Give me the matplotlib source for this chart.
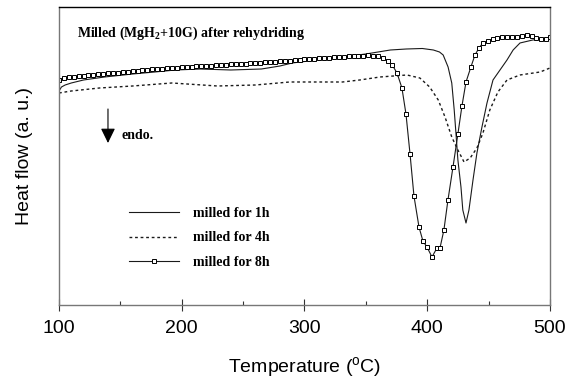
import matplotlib.pyplot as plt
from matplotlib.ticker import MultipleLocator

plt.rcParams['font.family'] = ['Liberation Sans', 'DejaVu Sans']
plt.rcParams['mathtext.default'] = 'regular'

# milled for 1h (solid)
T1 = [100, 102, 105, 110, 120, 137, 160, 178, 195, 215, 240, 265, 280, 290, 310, 330,
      350, 360, 370, 383, 396, 405, 410, 413, 417, 420, 422, 423.4, 425, 427.5, 429,
      431.6, 434, 437.3, 440.5, 444.6, 448.7, 453.6, 459.3, 465, 470, 475.6, 486, 500]
Y1 = [214, 218, 220, 222, 225, 228, 231, 233, 235, 236, 235, 236, 239, 242, 245, 248,
      251, 253, 255, 256, 256.5, 255, 253, 250, 238, 222, 195, 172, 145, 118, 95,
      82, 95, 125, 152, 178, 202, 225, 235, 245, 255, 262, 265, 267]

# milled for 4h (dashed)
T4 = [100, 110, 133, 160, 192, 229, 260, 288, 331, 345, 361.5, 383.5, 394, 402, 409,
      414.5, 420, 425, 430, 435, 440.5, 445.4, 451, 457.6, 465, 475.6, 492, 500]
Y4 = [212, 214, 217, 219, 222, 219, 220, 223, 223, 225, 228, 230, 227, 218, 205,
      188, 168, 155, 143, 147, 157, 172, 195, 213, 225, 230, 233, 237]

# milled for 8h (squares)
T8 = [100, 104, 108, 112, 116, 120, 124, 128, 132, 136, 140, 144, 148, 152, 156, 160,
      164, 168, 172, 176, 180, 184, 188, 192, 196, 200, 204, 208, 212, 216, 220, 224,
      228, 232, 236, 240, 244, 248, 252, 256, 260, 264, 268, 272, 276, 280, 284, 288,
      292, 296, 300, 304, 308, 312, 316, 320, 324, 328, 332, 336, 340, 344, 348, 352,
      356, 360, 364, 368, 371.5, 375.4, 379.4, 382.7, 386, 389.2, 393.3, 396.5, 399.8,
      403.9, 407.9, 410.4, 413.6, 416.9, 421, 425, 428.3, 431.6, 435.6, 438.9, 442.2,
      445.4, 449.5, 453.6, 457, 461, 465, 469, 473, 477, 481, 485, 489, 493, 497, 500]
Y8 = [225, 226.5, 227.5, 228, 228.5, 229, 229.5, 230, 230.5, 231, 231.5, 232, 232, 232.5, 233, 233.5,
      234, 234.5, 235, 235.5, 236, 236, 236.5, 237, 237, 237.5, 238, 238, 238.5, 238.5, 239, 239,
      239.5, 240, 240, 240.5, 240.5, 241, 241, 241.5, 242, 242, 242.5, 243, 243, 243.5, 244, 244,
      244.5, 245, 245.5, 246, 246, 246.5, 247, 247, 247.5, 248, 248, 248.5, 248.5, 249, 249, 249.5,
      249, 248.5, 247, 244, 240, 232, 217, 191, 151, 109, 78, 64, 58,
      48, 57, 57, 75, 105, 138, 171, 199, 223, 238, 250, 257,
      262, 264, 266, 267, 268, 268, 268, 268, 269, 270, 269, 267, 266, 266, 268]

fig = plt.figure(figsize=(5.74, 3.84), dpi=100)
ax = fig.add_axes([0.1028, 0.2057, 0.8553, 0.7761])

ax.plot(T1, Y1, color='#1a1a1a', lw=0.8, label='milled for 1h')
ax.plot(T4, Y4, color='#1a1a1a', lw=1.0, ls=(0, (2, 2)), label='milled for 4h')
ax.plot(T8, Y8, color='#1a1a1a', lw=0.8, marker='s', ms=3.2, mfc='white',
        mec='black', mew=0.7, label='milled for 8h')

ax.set_xlim(100, 500)
ax.set_ylim(0, 298)
ax.xaxis.set_major_locator(MultipleLocator(100))
ax.xaxis.set_minor_locator(MultipleLocator(50))
ax.tick_params(axis='x', which='major', direction='inout', length=8, width=0.8,
               color='#333333', labelsize=14, pad=7)
ax.tick_params(axis='x', which='minor', direction='in', length=3, width=0.8, color='#333333')
ax.set_yticks([])
for s in ['left', 'right', 'bottom']:
    ax.spines[s].set_color('#777777')
    ax.spines[s].set_linewidth(1.0)
ax.spines['top'].set_color('black')
ax.spines['top'].set_linewidth(1.0)

ax.set_xlabel('Temperature ($^o$C)', fontsize=14, labelpad=13)
ax.set_ylabel('Heat flow (a. u.)', fontsize=14, labelpad=19)

serif_bold = {'family': 'Liberation Serif', 'weight': 'bold', 'size': 10}
ax.text(0.0367, 0.913, 'Milled (MgH$_2$+10G) after rehydriding', transform=ax.transAxes,
        ha='left', va='center', fontdict=serif_bold)

ax.annotate('', xy=(139.9, 162), xytext=(139.9, 196),
            arrowprops=dict(arrowstyle='-|>,head_length=0.45,head_width=0.22',
                            color='black', lw=0.8, mutation_scale=20,
                            shrinkA=0, shrinkB=0))
ax.text(151.3, 169, 'endo.', ha='left', va='center', fontdict=serif_bold)

ax.legend(loc='upper left', bbox_to_anchor=(0.1426, 0.33), frameon=False,
          prop=serif_bold, handlelength=3.6, handletextpad=1.0, labelspacing=0.85,
          borderpad=0, borderaxespad=0, numpoints=1)

fig.savefig('out.png', dpi=100)
